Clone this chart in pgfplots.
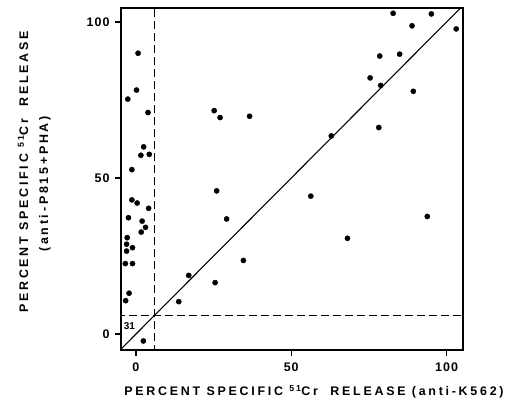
\documentclass[border=0pt]{standalone}
\usepackage{pgfplots}
\pgfplotsset{compat=1.18}
\usepackage{fontspec}
\setmainfont{Liberation Sans}
\newfontfamily\lbl[LetterSpace=22]{Liberation Sans}
\newfontfamily\tickfont[LetterSpace=8]{Liberation Sans}
\begin{document}
\begin{tikzpicture}[x=1bp,y=1bp]
\begin{axis}[
  at={(0,0)}, anchor=south west,
  scale only axis, width=342bp, height=342bp,
  xmin=-4.8, xmax=105.3, ymin=-5.1, ymax=104.5,
  xtick={0,50,100}, ytick={0,50,100},
  tick align=outside, tick pos=left,
  major tick length=6bp,
  axis line style={draw=black, line width=1.3pt},
  every tick/.style={draw=black, line width=1.3pt},
  /pgf/number format/assume math mode=true,
  ticklabel style={font=\fontsize{12.5}{14}\selectfont\bfseries\tickfont},
  xticklabel style={yshift=-3bp},
  yticklabel style={xshift=-2bp},
  clip=true,
]
% y = x
\addplot[black, line width=1.1pt] coordinates {(-10,-10) (110,110)};
% threshold lines
\addplot[black, line width=1.2pt, dash pattern=on 8bp off 4bp] coordinates {(6,-10) (6,110)};
\addplot[black, line width=1.2pt, dash pattern=on 8bp off 4bp] coordinates {(-10,6) (110,6)};
% data
\addplot[only marks, mark=*, mark size=2.6bp, black] coordinates {
(0.7,90.0) (0.2,78.2) (-2.6,75.3) (3.9,71.0) (2.5,60.0) (1.6,57.3) (4.3,57.6)
(-1.3,52.7) (-1.3,43.0) (0.4,42.0) (4.1,40.3) (-2.4,37.3) (2.0,36.2) (3.1,34.2)
(1.7,32.7) (-2.8,30.9) (-3.0,28.8) (-1.1,27.7) (-3.0,26.6) (-3.4,22.6) (-1.1,22.6)
(-2.2,13.1) (-3.3,10.7) (2.4,-2.2)
(25.2,71.6) (27.1,69.4) (36.6,69.8) (26.0,45.9) (29.2,36.9) (17.0,18.8)
(25.5,16.5) (13.8,10.4) (34.6,23.6)
(82.8,102.8) (95.1,102.6) (88.9,98.8) (103.1,97.8) (78.5,89.1) (84.9,89.7)
(75.4,82.1) (78.8,79.7) (89.3,77.8) (78.2,66.2) (62.9,63.5) (56.3,44.2)
(68.1,30.7) (93.8,37.7)
};
\node[font=\fontsize{10}{11}\selectfont\bfseries] at (axis cs:-2.1,2.6) {31};
\end{axis}
\node[rotate=90, font=\fontsize{12.5}{14}\selectfont\bfseries\lbl] at (-98,178) {PERCENT SPECIFIC \textsuperscript{51}Cr\ \ RELEASE};
\node[rotate=90, font=\fontsize{12.5}{14}\selectfont\bfseries\lbl] at (-76,166) {(anti-P815+PHA)};
\node[font=\fontsize{12.5}{14}\selectfont\bfseries\lbl] at (193,-42) {PERCENT SPECIFIC \textsuperscript{51}Cr\ \ RELEASE (anti-K562)};
\pgfresetboundingbox
\path (-121,-65) rectangle (390,350);
\end{tikzpicture}
\end{document}
